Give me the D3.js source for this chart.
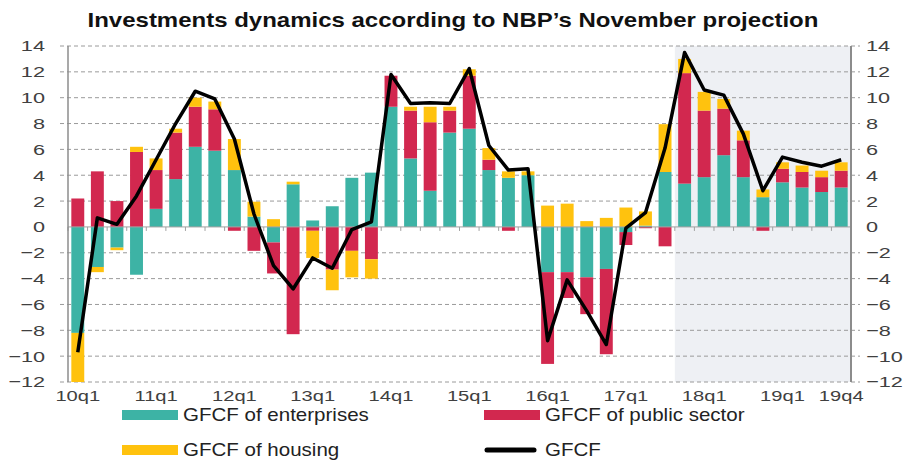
<!DOCTYPE html>
<html>
<head>
<meta charset="utf-8">
<script src="https://cdn.jsdelivr.net/npm/d3@7"></script>
<style>
  body { margin: 0; background: #fff; }
  svg { display: block; font-family: "Liberation Sans", Arial, sans-serif; }
</style>
</head>
<body>
<svg id="chart" width="905" height="462"></svg>
<script>
// --- Data -----------------------------------------------------------
const quarters = [
  "10q1", "10q2", "10q3", "10q4", "11q1", "11q2", "11q3", "11q4",
  "12q1", "12q2", "12q3", "12q4", "13q1", "13q2", "13q3", "13q4",
  "14q1", "14q2", "14q3", "14q4", "15q1", "15q2", "15q3", "15q4",
  "16q1", "16q2", "16q3", "16q4", "17q1", "17q2", "17q3", "17q4",
  "18q1", "18q2", "18q3", "18q4", "19q1", "19q2", "19q3", "19q4"
];
const enterprises = [
  -8.2, -3.1, -1.6, -3.7, 1.4, 3.7, 6.2, 5.9,
  4.4, 0.8, -1.2, 3.3, 0.5, 1.6, 3.8, 4.2,
  9.3, 5.3, 2.8, 7.3, 7.6, 4.4, 3.8, 4.0,
  -3.5, -3.5, -3.9, -3.25, -0.4, 0.1, 4.25, 3.35,
  3.85, 5.55, 3.85, 2.3, 3.45, 3.05, 2.7, 3.05
];
const publicSector = [
  2.2, 4.3, 2.0, 5.8, 3.0, 3.6, 3.1, 3.2,
  -0.3, -1.85, -2.4, -8.3, -0.3, -3.3, -1.85, -2.5,
  2.4, 3.7, 5.3, 1.7, 4.1, 0.8, -0.3, 0.0,
  -7.1, -2.0, -2.85, -6.6, -1.0, -0.1, -1.5, 8.55,
  5.15, 3.6, 2.85, -0.3, 1.05, 1.2, 1.15, 1.3
];
const housing = [
  -3.8, -0.4, -0.2, 0.4, 0.9, 0.3, 0.7, 0.6,
  2.4, 1.15, 0.6, 0.2, -2.1, -1.6, -2.05, -1.5,
  0.0, 0.3, 1.2, 0.3, 0.5, 0.9, 0.5, 0.3,
  1.65, 1.8, 0.45, 0.7, 1.5, 1.1, 3.7, 1.1,
  1.45, 0.75, 0.75, 0.6, 0.5, 0.5, 0.5, 0.65
];
const gfcf = [
  -9.7, 0.7, 0.2, 2.4, 5.2, 8.0, 10.5, 9.9,
  6.8, 1.0, -3.0, -4.8, -2.4, -3.2, -0.2, 0.4,
  11.8, 9.55, 9.6, 9.55, 12.25, 6.3, 4.4, 4.5,
  -8.8, -4.1, -6.5, -9.1, -0.1, 1.1, 6.1, 13.5,
  10.6, 10.2, 7.2, 2.8, 5.4, 5.0, 4.7, 5.2
];
const yTicks = [-12, -10, -8, -6, -4, -2, 0, 2, 4, 6, 8, 10, 12, 14];
const xLabels = ["10q1", "11q1", "12q1", "13q1", "14q1", "15q1", "16q1", "17q1", "18q1", "19q1", "19q4"];
const projectionStart = "17q4";

const seriesKeys = ["enterprises", "publicSector", "housing"];
const seriesNames = {
  enterprises: "GFCF of enterprises",
  publicSector: "GFCF of public sector",
  housing: "GFCF of housing"
};
const colors = {
  enterprises: "#3db3a5",
  publicSector: "#d2284f",
  housing: "#ffc20e"
};

// --- Layout ---------------------------------------------------------
const svg = d3.select("#chart");
const plot = { left: 68, right: 851, top: 46, bottom: 382 };

// the source picture is wide-stretched, so text is widened the same way
function stretch(sel, k) {
  sel.each(function () {
    const t = d3.select(this);
    const x0 = +t.attr("x") || 0;
    t.attr("x", x0 / k).attr("transform", `scale(${k},1)`);
  });
}

const x = d3.scaleBand().domain(quarters).range([plot.left, plot.right])
  .paddingInner(0.34).paddingOuter(0.17);
const y = d3.scaleLinear().domain([-12, 14]).range([plot.bottom, plot.top]);

const rows = quarters.map((q, i) => ({
  q,
  enterprises: enterprises[i],
  publicSector: publicSector[i],
  housing: housing[i]
}));
const stacked = d3.stack().keys(seriesKeys).offset(d3.stackOffsetDiverging)(rows);

// projection shading
const step = x.step();
const gap = x.paddingInner() * step / 2;
const shadeX = x(projectionStart) - gap;
svg.append("rect")
  .attr("x", shadeX).attr("y", plot.top)
  .attr("width", plot.right - shadeX).attr("height", plot.bottom - plot.top)
  .attr("fill", "#eef0f4");

// grid
svg.append("g").selectAll("line").data(yTicks.filter((t) => t !== 0))
  .enter().append("line")
  .attr("x1", plot.left - 8).attr("x2", plot.right + 9)
  .attr("y1", (d) => y(d)).attr("y2", (d) => y(d))
  .attr("stroke", "#9a9a9a").attr("stroke-width", 1)
  .attr("stroke-dasharray", "4,3");

// bars
svg.append("g").selectAll("g").data(stacked).enter().append("g")
  .attr("fill", (s) => colors[s.key])
  .selectAll("rect").data((s) => s).enter().append("rect")
  .attr("x", (d) => x(d.data.q))
  .attr("width", x.bandwidth())
  .attr("y", (d) => y(Math.max(d[0], d[1])))
  .attr("height", (d) => Math.abs(y(d[0]) - y(d[1])));

// zero line + ticks at band boundaries
svg.append("line")
  .attr("x1", plot.left).attr("x2", plot.right)
  .attr("y1", y(0)).attr("y2", y(0))
  .attr("stroke", "#a0a0a0").attr("stroke-width", 1);
svg.append("g").selectAll("line").data(quarters)
  .enter().append("line")
  .attr("x1", (d) => x(d) - gap)
  .attr("x2", (d) => x(d) - gap)
  .attr("y1", y(0)).attr("y2", y(0) + 4)
  .attr("stroke", "#a0a0a0");

// axis lines
svg.append("line").attr("x1", plot.left).attr("x2", plot.left)
  .attr("y1", plot.top).attr("y2", plot.bottom)
  .attr("stroke", "#8c8c8c").attr("stroke-width", 1.5);
svg.append("line").attr("x1", plot.right).attr("x2", plot.right)
  .attr("y1", plot.top).attr("y2", plot.bottom)
  .attr("stroke", "#8c8c8c").attr("stroke-width", 2);

// GFCF line
const line = d3.line()
  .x((d, i) => x(quarters[i]) + x.bandwidth() / 2)
  .y((d) => y(d));
svg.append("path").datum(gfcf)
  .attr("d", line)
  .attr("fill", "none")
  .attr("stroke", "#000")
  .attr("stroke-width", 3.5)
  .attr("stroke-linejoin", "round");

// axis labels
const axisL = svg.append("g").attr("transform", `translate(${plot.left},0)`)
  .call(d3.axisLeft(y).tickValues(yTicks).tickSize(0).tickPadding(23));
const axisR = svg.append("g").attr("transform", `translate(${plot.right},0)`)
  .call(d3.axisRight(y).tickValues(yTicks).tickSize(0).tickPadding(15));
const axisB = svg.append("g").attr("transform", `translate(0,${plot.bottom})`)
  .call(d3.axisBottom(x).tickValues(xLabels).tickSize(0).tickPadding(8));

[axisL, axisR, axisB].forEach((a) => {
  a.select(".domain").remove();
  a.selectAll("text")
    .attr("font-family", "'Liberation Sans', Arial, sans-serif")
    .attr("font-size", 15.5)
    .attr("fill", "#404040");
});
stretch(axisL.selectAll("text"), 1.4);
stretch(axisR.selectAll("text"), 1.4);
stretch(axisB.selectAll("text"), 1.3);

// title
const title = svg.append("text")
  .attr("x", 453).attr("y", 27)
  .attr("text-anchor", "middle")
  .attr("font-size", 20).attr("font-weight", "bold")
  .attr("fill", "#111")
  .text("Investments dynamics according to NBP’s November projection");
stretch(title, 1.2);

// legend
const legendItems = [
  { key: "enterprises", x: 122, y: 415 },
  { key: "publicSector", x: 484, y: 415 },
  { key: "housing", x: 122, y: 450 },
  { key: "gfcf", x: 484, y: 450 }
];
const lg = svg.append("g").selectAll("g").data(legendItems).enter().append("g")
  .attr("transform", (d) => `translate(${d.x},${d.y})`);
lg.filter((d) => d.key !== "gfcf").append("rect")
  .attr("x", 0).attr("y", -5).attr("width", 56).attr("height", 10)
  .attr("fill", (d) => colors[d.key]);
lg.filter((d) => d.key === "gfcf").append("line")
  .attr("x1", 3).attr("x2", 50).attr("y1", 0).attr("y2", 0)
  .attr("stroke", "#000").attr("stroke-width", 5).attr("stroke-linecap", "round");
const legendText = lg.append("text")
  .attr("x", 61).attr("y", 0).attr("dy", "0.35em")
  .attr("font-size", 18).attr("fill", "#222")
  .text((d) => (d.key === "gfcf" ? "GFCF" : seriesNames[d.key]));
stretch(legendText, 1.14);
</script>
</body>
</html>
